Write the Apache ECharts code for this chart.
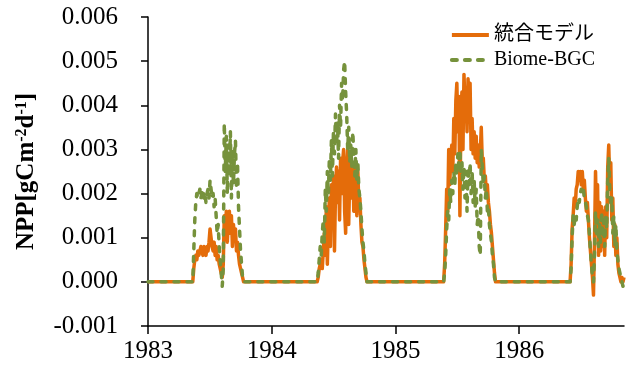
<!DOCTYPE html>
<html>
<head>
<meta charset="utf-8">
<script src="https://cdn.jsdelivr.net/npm/echarts@6/dist/echarts.min.js"></script>
<style>
  html, body { margin: 0; padding: 0; background: #fff; }
  #chart { width: 632px; height: 374px; }
</style>
</head>
<body>
<div id="chart"></div>
<script>
// 日数は1983年1月1日からの通算日, 3日おきに読み取った値
var yearLabels = [1983, 1984, 1985, 1986];
var yearTicks = [0, 365, 730, 1095];
var step = 3;
var seasonStart = [132, 499, 872, 1245];

// 統合モデル
var tougou1983 = [0.0000, 0.0003, 0.0005, 0.0006, 0.0005, 0.0007, 0.0006, 0.0007, 0.0008, 0.0007,
  0.0006, 0.0008, 0.0007, 0.0006, 0.0008, 0.0007, 0.0009, 0.0012, 0.0010, 0.0008,
  0.0007, 0.0009, 0.0006, 0.0008, 0.0005, 0.0006, 0.0004, 0.0003, 0.0002, 0.0001,
  0.0004, 0.0015, 0.0012, 0.0016, 0.0009, 0.0014, 0.0016, 0.0011, 0.0015, 0.0008,
  0.0013, 0.0010, 0.0012, 0.0007, 0.0009, 0.0006, 0.0004, 0.0003, 0.0002, 0.0001, 0.0000];
var tougou1984 = [0.0000, 0.0001, 0.0003, 0.0004, 0.0005, 0.0003, 0.0007, 0.0011, 0.0006, 0.0017,
  0.0004, 0.0013, 0.0019, 0.0008, 0.0022, 0.0015, 0.0024, 0.0007, 0.0020, 0.0026,
  0.0018, 0.0025, 0.0014, 0.0028, 0.0020, 0.0027, 0.0030, 0.0016, 0.0011, 0.0026,
  0.0030, 0.0013, 0.0024, 0.0028, 0.0019, 0.0027, 0.0016, 0.0027, 0.0021, 0.0015,
  0.0025, 0.0017, 0.0019, 0.0013, 0.0009, 0.0008, 0.0005, 0.0003, 0.0001, 0.0000];
var tougou1985 = [0.0000, 0.0004, 0.0012, 0.0021, 0.0016, 0.0030, 0.0022, 0.0028, 0.0031, 0.0025,
  0.0037, 0.0029, 0.0041, 0.0045, 0.0034, 0.0042, 0.0015, 0.0038, 0.0043, 0.0030,
  0.0047, 0.0040, 0.0044, 0.0034, 0.0046, 0.0038, 0.0045, 0.0030, 0.0037, 0.0029,
  0.0034, 0.0028, 0.0033, 0.0027, 0.0031, 0.0026, 0.0029, 0.0035, 0.0027, 0.0028,
  0.0023, 0.0024, 0.0020, 0.0022, 0.0018, 0.0016, 0.0013, 0.0011, 0.0008, 0.0005,
  0.0002, 0.0000];
var tougou1986 = [0.0000, 0.0004, 0.0012, 0.0015, 0.0019, 0.0017, 0.0021, 0.0022, 0.0025, 0.0023,
  0.0025, 0.0022, 0.0025, 0.0021, 0.0023, 0.0019, 0.0016, 0.0018, 0.0014, 0.0010,
  0.0007, 0.0004, 0.0001, -0.0003, 0.0009, 0.0025, 0.0014, 0.0022, 0.0006, 0.0018,
  0.0007, 0.0017, 0.0008, 0.0016, 0.0006, 0.0017, 0.0010, 0.0026, 0.0031, 0.0022,
  0.0027, 0.0014, 0.0019, 0.0008, 0.0013, 0.0006, 0.0010, 0.0004, 0.0002, 0.0001,
  0.0000, 0.0001, 0.0000, 0.0001];

// Biome-BGC
var biome1983 = [0.0000, 0.0007, 0.0014, 0.0018, 0.0020, 0.0019, 0.0020, 0.0021, 0.0019, 0.0020,
  0.0021, 0.0019, 0.0020, 0.0018, 0.0020, 0.0021, 0.0019, 0.0023, 0.0021, 0.0019,
  0.0020, 0.0017, 0.0019, 0.0015, 0.0011, 0.0013, 0.0008, 0.0005, 0.0002, -0.0001,
  0.0003, 0.0036, 0.0025, 0.0033, 0.0020, 0.0031, 0.0024, 0.0034, 0.0019, 0.0030,
  0.0022, 0.0029, 0.0032, 0.0021, 0.0027, 0.0017, 0.0012, 0.0007, 0.0004, 0.0001, 0.0000];
var biome1984 = [0.0000, 0.0002, 0.0005, 0.0008, 0.0006, 0.0011, 0.0014, 0.0009, 0.0021, 0.0016,
  0.0025, 0.0020, 0.0028, 0.0023, 0.0032, 0.0024, 0.0034, 0.0029, 0.0038, 0.0031,
  0.0036, 0.0028, 0.0040, 0.0035, 0.0045, 0.0041, 0.0048, 0.0050, 0.0043, 0.0038,
  0.0030, 0.0035, 0.0027, 0.0031, 0.0026, 0.0034, 0.0029, 0.0024, 0.0030, 0.0023,
  0.0027, 0.0021, 0.0019, 0.0016, 0.0012, 0.0009, 0.0007, 0.0004, 0.0002, 0.0000];
var biome1985 = [0.0000, 0.0002, 0.0006, 0.0012, 0.0016, 0.0014, 0.0021, 0.0018, 0.0023, 0.0020,
  0.0025, 0.0022, 0.0027, 0.0024, 0.0029, 0.0026, 0.0030, 0.0025, 0.0027, 0.0021,
  0.0026, 0.0019, 0.0025, 0.0016, 0.0026, 0.0022, 0.0027, 0.0020, 0.0025, 0.0018,
  0.0023, 0.0017, 0.0021, 0.0013, 0.0015, 0.0008, 0.0006, 0.0030, 0.0026, 0.0022,
  0.0024, 0.0019, 0.0021, 0.0016, 0.0017, 0.0013, 0.0011, 0.0009, 0.0006, 0.0004,
  0.0001, 0.0000];
var biome1986 = [0.0000, 0.0003, 0.0010, 0.0015, 0.0013, 0.0015, 0.0014, 0.0017, 0.0019, 0.0018,
  0.0020, 0.0021, 0.0020, 0.0021, 0.0019, 0.0018, 0.0017, 0.0015, 0.0014, 0.0011,
  0.0007, 0.0004, 0.0001, 0.0000, 0.0006, 0.0016, 0.0011, 0.0014, 0.0008, 0.0013,
  0.0009, 0.0016, 0.0010, 0.0014, 0.0008, 0.0015, 0.0012, 0.0023, 0.0028, 0.0021,
  0.0017, 0.0019, 0.0011, 0.0015, 0.0008, 0.0013, 0.0007, 0.0005, 0.0003, 0.0002,
  0.0001, 0.0000, -0.0001, 0.0000];

var xMax = 1404;

function buildSeries(seasons) {
  var out = [[0, 0]];
  seasons.forEach(function (vals, s) {
    vals.forEach(function (v, i) {
      out.push([seasonStart[s] + i * step, v]);
    });
  });
  return out;
}

var tougouData = buildSeries([tougou1983, tougou1984, tougou1985, tougou1986]);
var biomeData = buildSeries([biome1983, biome1984, biome1985, biome1986]);

var serif = "'Liberation Serif', 'Times New Roman', 'Noto Sans CJK JP', serif";

var myChart = echarts.init(document.getElementById('chart'));

var option = {
  backgroundColor: '#fff',
  animation: false,
  grid: { left: 148, right: 8, top: 17, bottom: 48 },
  legend: {
    orient: 'vertical',
    right: 32,
    top: 20,
    itemWidth: 37,
    itemHeight: 14,
    itemGap: 5,
    itemStyle: { opacity: 0 },
    lineStyle: { width: 4 },
    textStyle: { fontFamily: serif, fontSize: 20, color: '#000' },
    data: ['統合モデル', 'Biome-BGC']
  },
  xAxis: {
    type: 'value',
    min: 0,
    max: xMax,
    interval: 365,
    axisLine: { onZero: false, lineStyle: { color: '#000', width: 1.5 } },
    axisTick: { show: true, length: 8, customValues: yearTicks, lineStyle: { color: '#000', width: 1.5 } },
    axisLabel: {
      customValues: yearTicks,
      margin: 13,
      fontFamily: serif,
      fontSize: 25,
      color: '#000',
      formatter: function (v) { return yearLabels[yearTicks.indexOf(v)]; }
    },
    splitLine: { show: false }
  },
  yAxis: {
    type: 'value',
    min: -0.001,
    max: 0.006,
    interval: 0.001,
    name: '{b|NPP[gCm}{s|-2}{b|d}{s|-1}{b|]}',
    nameLocation: 'middle',
    nameGap: 108,
    nameTextStyle: {
      rich: {
        b: { fontFamily: serif, fontSize: 25, fontWeight: 'bold', color: '#000' },
        s: { fontFamily: serif, fontSize: 16, fontWeight: 'bold', color: '#000', verticalAlign: 'top', padding: [0, 0, 10, 0] }
      }
    },
    axisLine: { show: true, lineStyle: { color: '#000', width: 1.5 } },
    axisTick: { show: true, length: 7, lineStyle: { color: '#000', width: 1.5 } },
    axisLabel: {
      margin: 30,
      fontFamily: serif,
      fontSize: 25,
      color: '#000',
      formatter: function (v) { return v.toFixed(3); }
    },
    splitLine: { show: false }
  },
  series: [
    {
      name: '統合モデル',
      type: 'line',
      data: tougouData,
      showSymbol: false,
      symbol: 'none',
      color: '#E46C0A',
      lineStyle: { color: '#E46C0A', width: 3.5, join: 'round' },
      z: 2
    },
    {
      name: 'Biome-BGC',
      type: 'line',
      data: biomeData,
      showSymbol: false,
      symbol: 'none',
      color: '#76923C',
      lineStyle: { color: '#76923C', width: 3.5, type: [5, 8], cap: 'round', join: 'round' },
      z: 3
    }
  ]
};

myChart.setOption(option);
</script>
</body>
</html>
